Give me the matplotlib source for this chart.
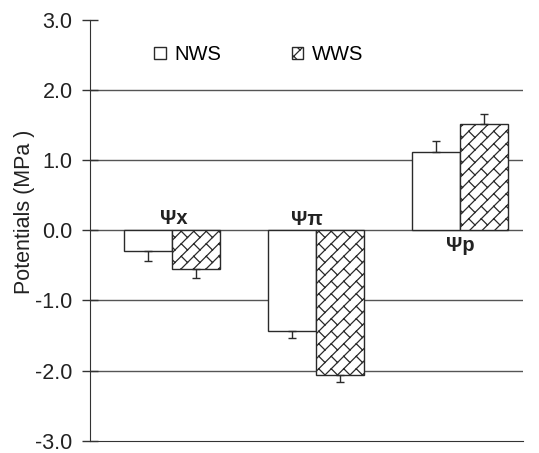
import warnings
import numpy as np
import matplotlib
matplotlib.use("Agg")
import matplotlib.pyplot as plt
import matplotlib.hatch as mhatch
from matplotlib.path import Path

warnings.filterwarnings("ignore")

groups = ["Ψx", "Ψπ", "Ψp"]
nws = [-0.30, -1.44, 1.12]
nws_err = [0.13, 0.10, 0.16]
wws = [-0.55, -2.06, 1.51]
wws_err = [0.13, 0.10, 0.15]
label_pos = [(0.01, 0.17), (0.94, 0.16), (2.0, -0.22)]


# diagonal brick hatch ("b")
class BrickHatch(mhatch.HatchPatternBase):
    def __init__(self, hatch, density):
        self.segs = []
        if "b" in hatch:
            n, m = 8, 4
            p = 1 / m
            for k in range(-n - 1, n + 2):
                v = k / n
                self.segs.append(((-0.2, v), (2.2, v)))
                for j in range(-1, 2 * m + 2):
                    u = j * p + (k % 2) * p / 2
                    self.segs.append(((u, v), (u, v + 1 / n)))
        self.num_vertices = 2 * len(self.segs)

    def set_vertices_and_codes(self, vertices, codes):
        for i, ((u0, v0), (u1, v1)) in enumerate(self.segs):
            vertices[2 * i] = ((u0 - v0) / 2, (u0 + v0) / 2)
            vertices[2 * i + 1] = ((u1 - v1) / 2, (u1 + v1) / 2)
        codes[0::2] = Path.MOVETO
        codes[1::2] = Path.LINETO


mhatch._hatch_types.append(BrickHatch)

plt.rcParams["font.family"] = "Liberation Sans"
plt.rcParams["hatch.linewidth"] = 0.9

fig = plt.figure(figsize=(5.39, 4.53), dpi=100)
ax = fig.add_axes([0.167, 0.027, 0.803, 0.929])

x = np.arange(len(groups))
w = 0.333
ec = "#2a2a2a"

for yv in [-2, -1, 0, 1, 2]:
    ax.axhline(yv, color="#555555", lw=1.0, zorder=0)

ax.bar(x - w / 2, nws, w, color="white", edgecolor=ec, lw=1.0, zorder=2, label="NWS")
ax.bar(x + w / 2, wws, w, color="white", edgecolor=ec, lw=1.0, hatch="b", zorder=2, label="WWS")

sign_n = np.sign(nws)
sign_w = np.sign(wws)
ax.errorbar(x - w / 2, nws, yerr=[np.where(sign_n < 0, nws_err, 0), np.where(sign_n > 0, nws_err, 0)],
            fmt="none", ecolor=ec, elinewidth=1.0, capsize=3, capthick=1.0, zorder=3)
ax.errorbar(x + w / 2, wws, yerr=[np.where(sign_w < 0, wws_err, 0), np.where(sign_w > 0, wws_err, 0)],
            fmt="none", ecolor=ec, elinewidth=1.0, capsize=3, capthick=1.0, zorder=3)

for g, (px, py) in zip(groups, label_pos):
    ax.text(px, py, g, ha="center", va="center", fontsize=14.5, fontweight="bold",
            color="#222222")

ax.set_xlim(-0.569, 2.4375)
ax.set_ylim(-3, 3)
ax.set_yticks([-3, -2, -1, 0, 1, 2, 3])
ax.set_yticklabels(["-3.0", "-2.0", "-1.0", "0.0", "1.0", "2.0", "3.0"], fontsize=15.5, color="#222222")
ax.set_xticks([])
ax.tick_params(axis="y", direction="inout", length=12, width=1.0, color="#333333", pad=6.5)
ax.spines["top"].set_visible(False)
ax.spines["right"].set_visible(False)
ax.spines["left"].set_color("#333333")
ax.spines["bottom"].set_color("#333333")
ax.set_ylabel("Potentials (MPa )", fontsize=15.5, color="#222222")
ax.yaxis.set_label_coords(-0.126, 0.545)

ax.legend(loc="center left", bbox_to_anchor=(0.107, 0.918), ncol=2, frameon=False,
          fontsize=14.5, handlelength=0.55, handleheight=0.55, handletextpad=0.45,
          columnspacing=3.5)

fig.savefig("out.png", dpi=100)
